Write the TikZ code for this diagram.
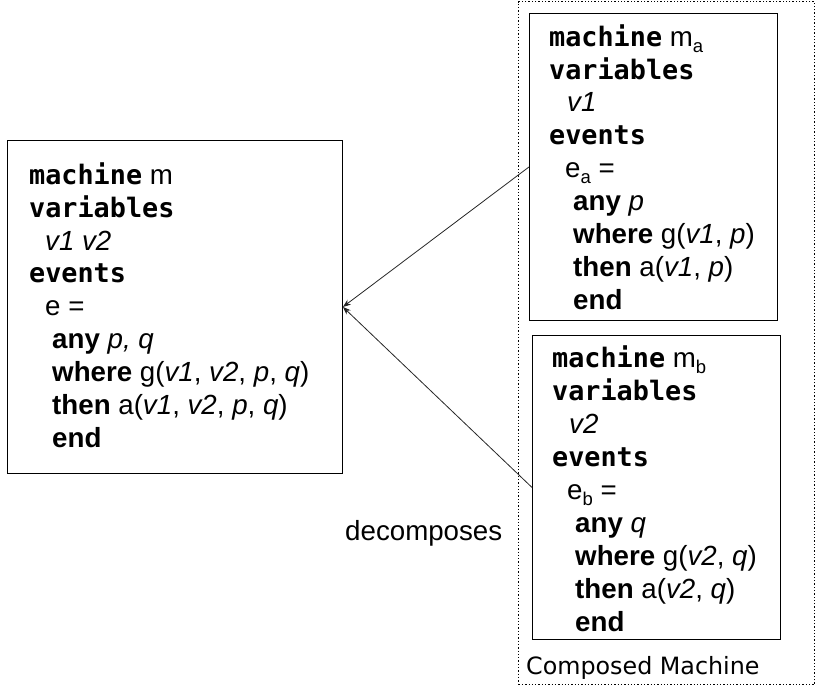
\documentclass[tikz,border=0pt]{standalone}
\usepackage{fontspec}
\setmainfont{Liberation Sans}
\newfontfamily\kwmono{DejaVu Sans Mono}
\newfontfamily\dejasans{DejaVu Sans}
\usetikzlibrary{arrows.meta}
\newcommand\kw[1]{{\kwmono\bfseries\fontsize{26.8}{33}\selectfont #1}}
\newcommand\kb[1]{\textbf{#1}}
\newcommand\va[1]{\textit{#1}}
\newcommand\subx[1]{\raisebox{-6pt}{\fontsize{18.5}{18}\selectfont #1}}
\begin{document}
\begin{tikzpicture}[x=1pt,y=-1pt,
  ln/.style={anchor=base west, inner sep=0pt, font=\fontsize{27.7}{33}\selectfont},
  mbox/.style={draw=black, line width=0.9pt, anchor=north west, inner sep=0pt},
  decomp/.style={draw=black!85, line width=0.8pt, -{Stealth[length=8pt,width=6pt]}}]
\useasboundingbox (0,0) rectangle (816,686);
% composed machine frame
\node[draw=black, dotted, line width=1.3pt, anchor=north west, inner sep=0pt,
  minimum width=296pt, minimum height=683pt] (comp) at (518,1) {};
% boxes
\node[mbox, minimum width=335pt, minimum height=333pt] (m) at (7,140) {};
\node[mbox, minimum width=248pt, minimum height=307pt] (ma) at (529,13) {};
\node[mbox, minimum width=248pt, minimum height=304pt] (mb) at (532,335) {};
% left box text
\node[ln] (m1) at (29,184) {\kw{machine} m};
\node[ln] (m2) at (29,217) {\kw{variables}};
\node[ln] (m3) at (45,250) {\va{v1 v2}};
\node[ln] (m4) at (29,282) {\kw{events}};
\node[ln] (m5) at (45,315) {e =};
\node[ln] (m6) at (52,348) {\kb{any} \va{p, q}};
\node[ln] (m7) at (52,381) {\kb{where} g(\va{v1}, \va{v2}, \va{p}, \va{q})};
\node[ln] (m8) at (52,414) {\kb{then} a(\va{v1}, \va{v2}, \va{p}, \va{q})};
\node[ln] (m9) at (52,447) {\kb{end}};
% machine ma text
\node[ln] (a1) at (549,46) {\kw{machine} m\subx{a}};
\node[ln] (a2) at (549,79) {\kw{variables}};
\node[ln] (a3) at (567,111) {\va{v1}};
\node[ln] (a4) at (549,144) {\kw{events}};
\node[ln] (a5) at (565,177) {e\subx{a} =};
\node[ln] (a6) at (573,210) {\kb{any} \va{p}};
\node[ln] (a7) at (573,243) {\kb{where} g(\va{v1}, \va{p})};
\node[ln] (a8) at (573,276) {\kb{then} a(\va{v1}, \va{p})};
\node[ln] (a9) at (573,309) {\kb{end}};
% machine mb text
\node[ln] (b1) at (552,367) {\kw{machine} m\subx{b}};
\node[ln] (b2) at (552,400) {\kw{variables}};
\node[ln] (b3) at (569,433) {\va{v2}};
\node[ln] (b4) at (552,466) {\kw{events}};
\node[ln] (b5) at (567,499) {e\subx{b} =};
\node[ln] (b6) at (575,532) {\kb{any} \va{q}};
\node[ln] (b7) at (575,565) {\kb{where} g(\va{v2}, \va{q})};
\node[ln] (b8) at (575,598) {\kb{then} a(\va{v2}, \va{q})};
\node[ln] (b9) at (575,631) {\kb{end}};
% labels
\node[ln] (dec) at (345,540) {decomposes};
\node[anchor=base west, inner sep=0pt, font=\dejasans\fontsize{23.8}{28}\selectfont] (cml) at (526,674) {Composed Machine};
% connectors
\draw[decomp] (ma.west) -- (m.east);
\draw[decomp] (mb.west) -- (m.east);
\end{tikzpicture}
\end{document}
